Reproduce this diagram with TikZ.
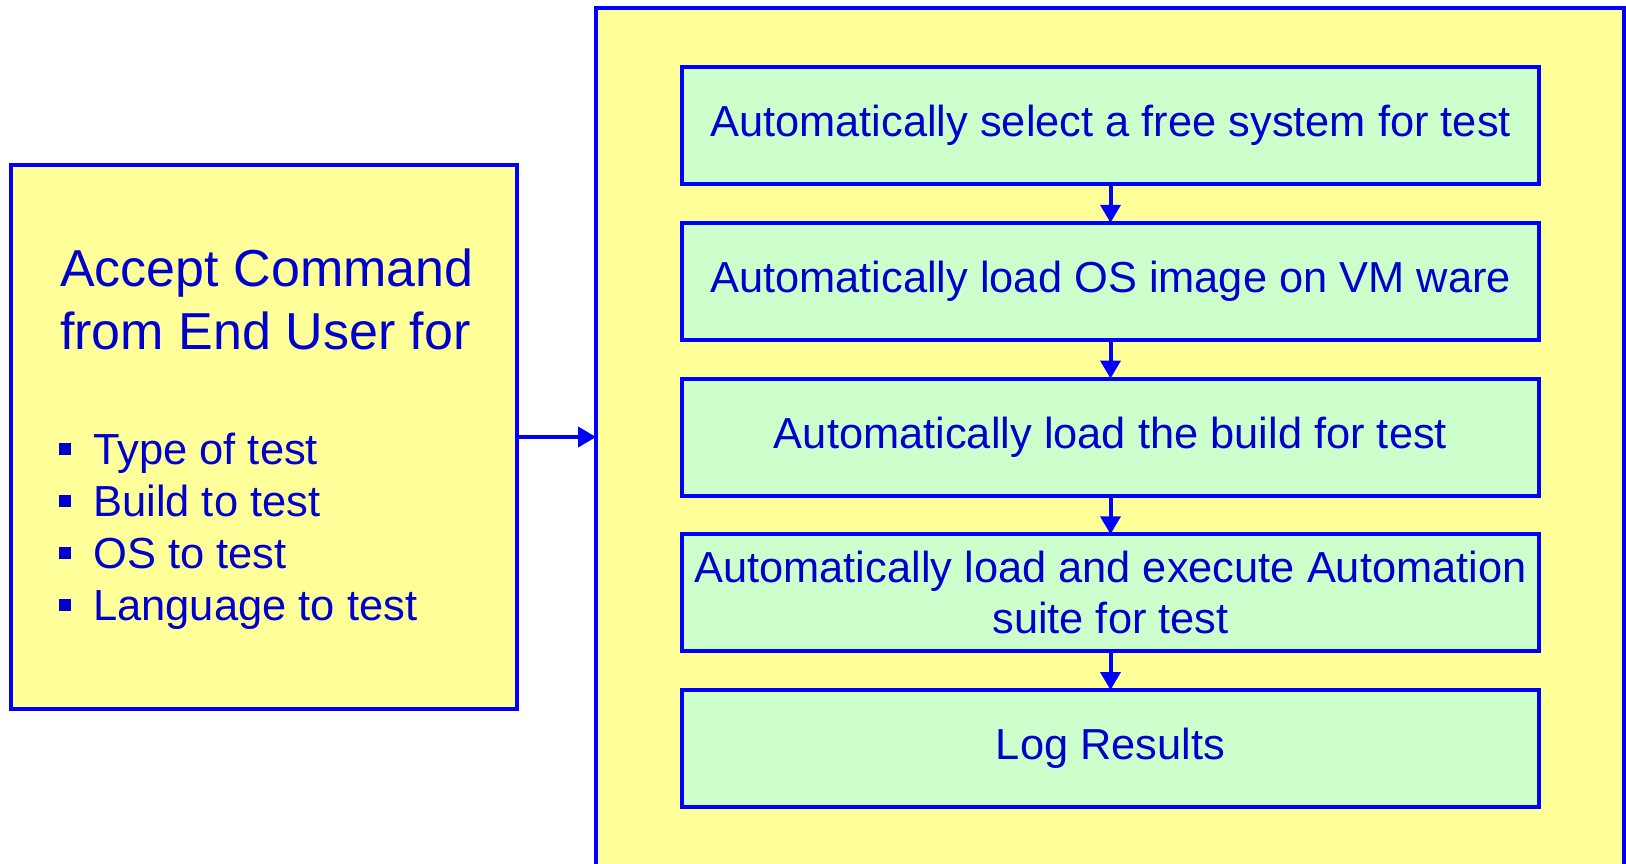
\documentclass[tikz,border=0pt]{standalone}
\usepackage{fontspec}
\setmainfont{Liberation Sans}
\usetikzlibrary{arrows.meta}
\definecolor{edgeblue}{RGB}{0,0,255}
\definecolor{inkblue}{RGB}{0,0,204}
\definecolor{paleyellow}{RGB}{255,255,153}
\definecolor{palegreen}{RGB}{204,255,204}
\begin{document}
\begin{tikzpicture}[x=1pt,y=-1pt,
  panel/.style={draw=edgeblue, line width=4pt, fill=paleyellow, rectangle,
    outer sep=0pt, inner sep=0pt},
  stepbox/.style={draw=edgeblue, line width=4pt, fill=palegreen,
    minimum width=857pt, minimum height=117pt, outer sep=0pt, inner sep=0pt,
    align=center, font=\fontsize{43.4}{51}\selectfont, text=inkblue},
  flow/.style={draw=edgeblue, line width=4pt, -{Triangle[length=18pt,width=20pt]}},
  label/.style={text=inkblue, inner sep=0pt, anchor=base west},
  titletext/.style={label, font=\fontsize{52}{62}\selectfont},
  itemtext/.style={label, font=\fontsize{43.5}{52}\selectfont},
  bullet/.style={fill=inkblue, minimum size=12pt, inner sep=0pt, rectangle}
]
\useasboundingbox (0,0) rectangle (1626,863);
\clip (0,0) rectangle (1626,863);

% command intake panel and automation panel
\node[panel, minimum width=506pt, minimum height=544pt] (cmd) at (264,437) {};
\node[panel, minimum width=1028pt, minimum height=900pt] (auto) at (1110,458) {};

% intake text
\node[titletext] (t1) at (60,286) {Accept Command};
\node[titletext] (t2) at (60,349) {from End User for};

\node[bullet] (b1) at (65,449) {};
\node[bullet] (b2) at (65,501) {};
\node[bullet] (b3) at (65,553) {};
\node[bullet] (b4) at (65,605) {};
\node[itemtext] (i1) at (93,464) {Type of test};
\node[itemtext] (i2) at (93,516) {Build to test};
\node[itemtext] (i3) at (93,568) {OS to test};
\node[itemtext] (i4) at (93,620) {Language to test};

% automation steps
\node[stepbox] (s1) at (1110.5,125.5) {Automatically select a free system for test};
\node[stepbox] (s2) at (1110.5,281.25) {Automatically load OS image on VM ware};
\node[stepbox] (s3) at (1110.5,437) {Automatically load the build for test};
\node[stepbox] (s4) at (1110.5,592.75) {Automatically load and execute Automation\\suite for test};
\node[stepbox] (s5) at (1110.5,748.5) {Log Results};

% connectors
\draw[flow] (cmd.east) -- (cmd.east -| auto.west);
\draw[flow] (s1.south) -- (s2.north);
\draw[flow] (s2.south) -- (s3.north);
\draw[flow] (s3.south) -- (s4.north);
\draw[flow] (s4.south) -- (s5.north);
\end{tikzpicture}
\end{document}
